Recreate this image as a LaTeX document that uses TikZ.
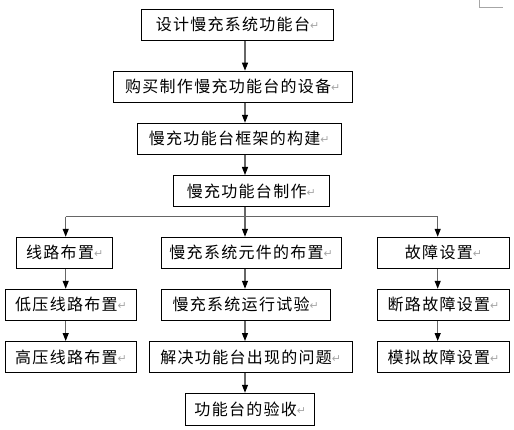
\documentclass[tikz,border=0pt]{standalone}
\usepackage{fontspec}
\usepackage{tikz}
\usetikzlibrary{arrows.meta}
\newfontfamily\cjk[LetterSpace=8]{Noto Sans CJK SC}
\newfontfamily\symfont{DejaVu Sans}
\newcommand{\huiche}{{\symfont\fontsize{11}{12}\selectfont\raisebox{1pt}{\textcolor{gray!70}{↵}}}}
\tikzset{kuang/.style={draw,line width=1,minimum height=31,inner sep=0,font=\cjk\fontsize{16}{18}\selectfont},
jian/.style={draw=black!60,line width=1.2,-{Triangle[width=6,length=8,color=black]}}}

\begin{document}
\begin{tikzpicture}[x=1pt,y=-1pt]
\useasboundingbox (0,0) rectangle (514,430);
\draw[gray!70,line width=1](479.3,0)--(479.3,7.3)--(502.7,7.3);
% main chain
\node[kuang,minimum width=191.6] (sheji) at (237.5,24.8) {设计慢充系统功能台\huiche};
\node[kuang,minimum width=239] (goumai) at (232.8,86.7) {购买制作慢充功能台的设备\huiche};
\node[kuang,minimum width=204] (kuangjia) at (239.3,138.8) {慢充功能台框架的构建\huiche};
\node[kuang,minimum width=156] (zhizuo) at (251.3,191) {慢充功能台制作\huiche};
% three columns
\node[kuang,minimum width=96] (xianlu) at (64.7,252.8) {线路布置\huiche};
\node[kuang,minimum width=179.7] (yuanjian) at (251.2,252.8) {慢充系统元件的布置\huiche};
\node[kuang,minimum width=131.6] (guzhang) at (443.5,252.8) {故障设置\huiche};
\node[kuang,minimum width=131.4] (diya) at (71,304.8) {低压线路布置\huiche};
\node[kuang,minimum width=168.7] (shiyan) at (245.7,304.8) {慢充系统运行试验\huiche};
\node[kuang,minimum width=131.6] (duanlu) at (443.5,304.8) {断路故障设置\huiche};
\node[kuang,minimum width=131.4] (gaoya) at (71,357) {高压线路布置\huiche};
\node[kuang,minimum width=203] (jiejue) at (250.8,357) {解决功能台出现的问题\huiche};
\node[kuang,minimum width=131.6] (moni) at (443.5,357) {模拟故障设置\huiche};
\node[kuang,minimum width=129.3,minimum height=32.4] (yanshou) at (250.3,409.5) {功能台的验收\huiche};
\coordinate (colL) at (65.7,0);
\coordinate (colM) at (245,0);
\coordinate (colR) at (437.7,0);
\coordinate (fenzhi) at (245,216.7);
% arrows
\draw[jian](colM|-sheji.south)--(colM|-goumai.north);
\draw[jian](colM|-goumai.south)--(colM|-kuangjia.north);
\draw[jian](colM|-kuangjia.south)--(colM|-zhizuo.north);
\draw[draw=black!60,line width=1.2](colM|-zhizuo.south)--(fenzhi);
\draw[draw=black!60,line width=1.2](colL|-fenzhi)--(colR|-fenzhi);
\draw[jian](colL|-fenzhi)--(colL|-xianlu.north);
\draw[jian](fenzhi)--(colM|-yuanjian.north);
\draw[jian](colR|-fenzhi)--(colR|-guzhang.north);
\draw[jian](colL|-xianlu.south)--(colL|-diya.north);
\draw[jian](colL|-diya.south)--(colL|-gaoya.north);
\draw[jian](colM|-yuanjian.south)--(colM|-shiyan.north);
\draw[jian](colM|-shiyan.south)--(colM|-jiejue.north);
\draw[jian](colM|-jiejue.south)--(colM|-yanshou.north);
\draw[jian](colR|-guzhang.south)--(colR|-duanlu.north);
\draw[jian](colR|-duanlu.south)--(colR|-moni.north);
\end{tikzpicture}
\end{document}
